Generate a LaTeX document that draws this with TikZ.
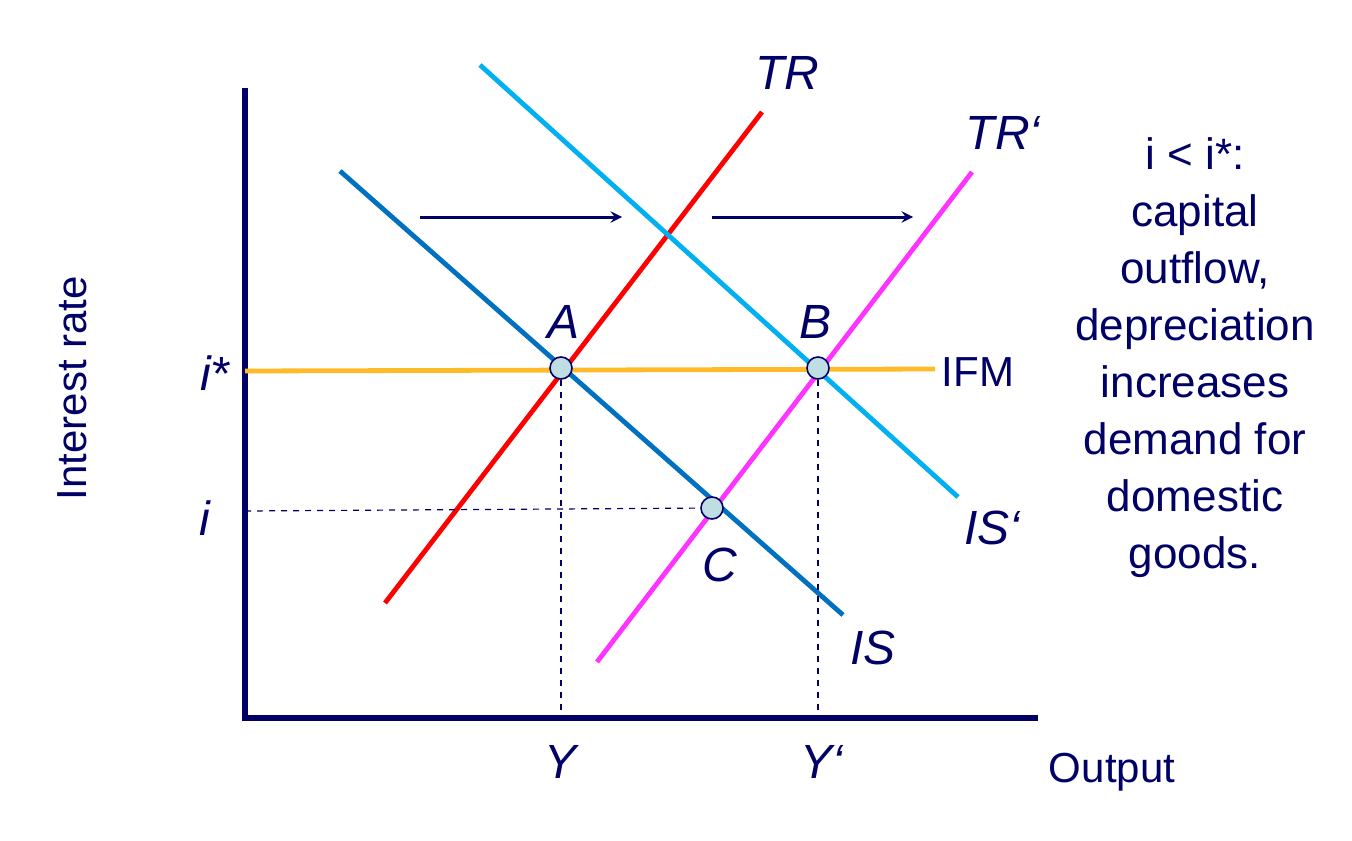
\documentclass[tikz,border=0pt]{standalone}
\usepackage{fontspec}
\setmainfont{Liberation Sans}
\usetikzlibrary{positioning}
\definecolor{navy}{RGB}{0,0,102}
\definecolor{isblue}{RGB}{0,112,192}
\definecolor{islight}{RGB}{0,176,240}
\definecolor{ifm}{RGB}{255,186,40}
\definecolor{trpink}{RGB}{255,51,255}
\definecolor{ptfill}{RGB}{190,222,228}
\tikzset{
  curve/.style={line width=2.4pt},
  guide/.style={navy, dashed, line width=0.6pt},
  lbl/.style={text=navy, font=\fontsize{24}{28}\selectfont\itshape},
  plain/.style={text=navy, font=\fontsize{21}{26}\selectfont},
  pt/.style={circle, draw=navy, fill=ptfill, line width=0.8pt, minimum size=11pt, inner sep=0pt},
  shiftarrow/.style={navy, line width=1.5pt, -stealth}
}
\begin{document}
\begin{tikzpicture}[x=0.5pt, y=-0.5pt]
    \useasboundingbox (0,0) rectangle (1352,840);
    % axes
    \coordinate (top) at (245,88);
    \coordinate (origin) at (245,718);
    \coordinate (right) at (1038,718);
    \draw[navy, line width=2.6pt] (top) -- (origin) -- (right);
    % curves
    \draw[curve, ifm] (245,371) -- (935,369);
    \draw[curve, red] (385,603) -- (762,112);
    \draw[curve, trpink] (597,662) -- (972,172);
    \draw[curve, isblue] (340,171) -- (843,615);
    \draw[curve, islight] (480,65) -- (958,497);
    % equilibrium points
    \node[pt] (A) at (561,368) {};
    \node[pt] (B) at (818,368) {};
    \node[pt] (C) at (712,508) {};
    \coordinate (Yx) at (561,718);
    \coordinate (Ypx) at (818,718);
    \coordinate (iy) at (245,511);
    \draw[guide] (A) -- (Yx);
    \draw[guide] (B) -- (Ypx);
    \draw[guide] (iy) -- (C);
    % shift arrows
    \coordinate (s1) at (420,217);
    \coordinate (e1) at (622,217);
    \coordinate (s2) at (712,217);
    \coordinate (e2) at (913,217);
    \draw[shiftarrow] (s1) -- (e1);
    \draw[shiftarrow] (s2) -- (e2);
    % labels
    \node[lbl] (tr) at (787,73) {TR};
    \node[lbl] (trp) at (1003,133) {TR‘};
    \node[lbl] (isp) at (992,528) {IS‘};
    \node[lbl] (is) at (873,648) {IS};
    \node[plain] (ifmlbl) at (978,372) {IFM};
    \node[lbl] at (563,322) {A};
    \node[lbl] at (815,322) {B};
    \node[lbl] at (720,565) {C};
    \node[lbl] (istar) at (215,373) {i*};
    \node[lbl] (ilbl) at (205,518) {i};
    \node[lbl] (ylbl) at (560,762) {Y};
    \node[lbl] (yplbl) at (822,762) {Y‘};
    \node[plain] (output) at (1112,772) {Output};
    \node[plain, rotate=90] (rate) at (72,388) {Interest rate};
    \node[plain, align=center, font=\fontsize{22}{28.5}\selectfont] (note) at (1195,358)
      {i < i*:\\capital\\outflow,\\depreciation\\increases\\demand for\\domestic\\goods.};
\end{tikzpicture}
\end{document}
